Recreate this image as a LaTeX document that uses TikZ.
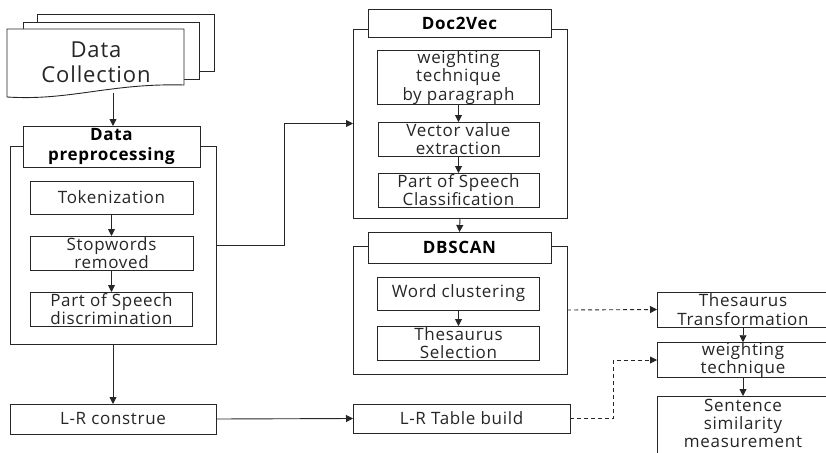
\documentclass[tikz,border=0pt]{standalone}
\usepackage{fontspec}
\setmainfont[LetterSpace=4]{Open Sans}
\usetikzlibrary{arrows.meta}
\begin{document}
\begin{tikzpicture}[x=1pt,y=-1pt,
  every node/.style={inner sep=0pt, outer sep=0pt},
  box/.style={draw=black!85, line width=0.9pt, fill=white, align=center,
    font=\fontsize{17}{18.5}\selectfont, text=black!85},
  head/.style={box, font=\fontsize{17}{19.5}\selectfont\bfseries, text=black},
  grp/.style={draw=black!85, line width=0.9pt, fill=white},
  sheet/.style={draw=black!85, line width=0.9pt, fill=white},
  arr/.style={draw=black!85, line width=0.9pt, -{Triangle[length=7pt,width=7pt]}},
  darr/.style={arr, dash pattern=on 4pt off 3pt},
]
\useasboundingbox (0,0) rectangle (826,452);

% stacked document: Data Collection
\draw[sheet] (37,14) rectangle (214,71);
\draw[sheet] (23,22) rectangle (199,79);
\draw[sheet] (7,29) -- (184,29) -- (184,85)
  .. controls (110,83) and (70,101) .. (7,97) -- cycle;
\node[font=\fontsize{22}{25}\selectfont, text=black!85, align=center]
  (dc) at (96,62) {Data\\Collection};
\coordinate (dcb) at (113,93);

% Data preprocessing group
\node[grp, minimum width=206, minimum height=198] (preout) at (113,245) {};
\node[head, minimum width=177, minimum height=41] (prehead) at (111.5,146.5) {Data\\preprocessing};
\node[box, minimum width=163, minimum height=33] (tok) at (111.5,197.5) {Tokenization};
\node[box, minimum width=163, minimum height=34] (stop) at (111.5,253) {Stopwords\\removed};
\node[box, minimum width=162, minimum height=34] (posd) at (111.5,309) {Part of Speech\\discrimination};

% Doc2Vec group
\node[grp, minimum width=214, minimum height=189] (docout) at (460,123.5) {};
\node[head, minimum width=183, minimum height=28] (dochead) at (459.5,23) {Doc2Vec};
\node[box, minimum width=162, minimum height=53] (wtp) at (458.5,77.5) {weighting\\technique\\by paragraph};
\node[box, minimum width=161, minimum height=34] (vve) at (458.5,139) {Vector value\\extraction};
\node[box, minimum width=161, minimum height=34] (posc) at (458.5,190) {Part of Speech\\Classification};

% DBSCAN group
\node[grp, minimum width=214, minimum height=128] (dbout) at (460,310) {};
\node[head, minimum width=183, minimum height=31] (dbhead) at (459.5,247.5) {DBSCAN};
\node[box, minimum width=162, minimum height=33] (wc) at (458.5,293.5) {Word clustering};
\node[box, minimum width=162, minimum height=34] (ts) at (458.5,343) {Thesaurus\\Selection};

% L-R steps
\node[box, minimum width=206, minimum height=30] (lrc) at (113,419) {L-R construe};
\node[box, minimum width=217, minimum height=29] (lrt) at (461.5,418.5) {L-R Table build};

% right column (runs past the right and bottom edges)
\node[box, minimum width=172, minimum height=35] (tt) at (743,309.5) {Thesaurus\\Transformation};
\node[box, minimum width=172, minimum height=34] (wt) at (743,360) {weighting\\technique};
\node[box, minimum width=172, minimum height=64, text depth=10pt,
  font=\fontsize{17}{18}\selectfont]
  (ssm) at (743,428) {Sentence\\similarity\\measurement};

% connectors
\draw[arr] (dcb) -- (dcb |- prehead.north);
\draw[arr] (tok) -- (stop);
\draw[arr] (stop) -- (posd);
\draw[arr] (preout.east) -- ++(68,0) |- (docout.west);
\draw[arr] (preout.south) -- (lrc.north);
\draw[arr] (lrc.east) -- (lrt.west);
\draw[arr] (wtp) -- (vve);
\draw[arr] (vve) -- (posc);
\draw[arr] (docout.south) -- (dbhead.north);
\draw[arr] (wc) -- (ts);
\draw[darr] (dbout.east) -- (tt.west);
\draw[darr] (lrt.east) -- ++(43,0) |- (wt.west);
\draw[arr] (tt) -- (wt);
\draw[arr] (wt) -- (ssm);
\end{tikzpicture}
\end{document}
